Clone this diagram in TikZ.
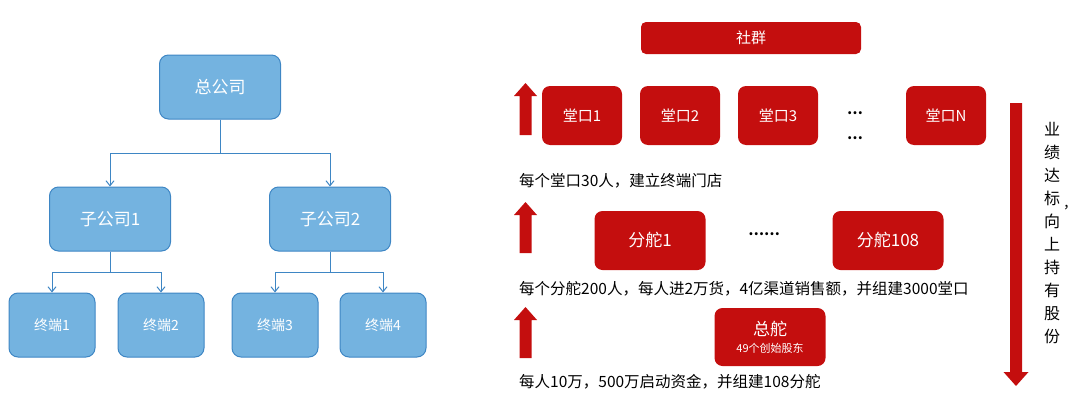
\documentclass[tikz,border=0pt]{standalone}
\usepackage{fontspec}
\setmainfont{Noto Sans CJK SC}
\usetikzlibrary{arrows.meta}
\definecolor{bfill}{HTML}{74B3E0}
\definecolor{bline}{HTML}{3E86C4}
\definecolor{rd}{HTML}{C40E0E}
\tikzset{
 bbox/.style={draw=bline,line width=1pt,fill=bfill,rounded corners=9pt,text=white,align=center,inner sep=0pt},
 rbox/.style={fill=rd,rounded corners=8pt,text=white,align=center,inner sep=0pt},
 conn/.style={draw=bline,line width=1pt,-{Straight Barb[length=5pt,width=8pt]}},
 captxt/.style={anchor=west,font=\fontsize{15.5}{17}\selectfont,inner sep=0pt},
}
\begin{document}
\begin{tikzpicture}[x=1pt,y=-1pt]
\useasboundingbox (0,0) rectangle (1080,418);
% left tree
\node[bbox,minimum width=121pt,minimum height=64pt,font=\fontsize{17}{19}\selectfont] (hq) at (220,87) {总公司};
\node[bbox,minimum width=121pt,minimum height=64pt,font=\fontsize{17}{19}\selectfont] (s1) at (110,219) {子公司1};
\node[bbox,minimum width=121pt,minimum height=64pt,font=\fontsize{17}{19}\selectfont] (s2) at (330,219) {子公司2};
\node[bbox,minimum width=86pt,minimum height=64pt,font=\fontsize{14}{16}\selectfont] (t1) at (52,325) {终端1};
\node[bbox,minimum width=86pt,minimum height=64pt,font=\fontsize{14}{16}\selectfont] (t2) at (161,325) {终端2};
\node[bbox,minimum width=86pt,minimum height=64pt,font=\fontsize{14}{16}\selectfont] (t3) at (275,325) {终端3};
\node[bbox,minimum width=86pt,minimum height=64pt,font=\fontsize{14}{16}\selectfont] (t4) at (383,325) {终端4};
\draw[conn] (hq.south) -- ++(0,34) -| (s1.north);
\draw[conn] (hq.south) -- ++(0,34) -| (s2.north);
\draw[conn] (s1.south) -- ++(0,21) -| (t1.north);
\draw[conn] (s1.south) -- ++(0,21) -| (t2.north);
\draw[conn] (s2.south) -- ++(0,21) -| (t3.north);
\draw[conn] (s2.south) -- ++(0,21) -| (t4.north);
% right
\node[rbox,minimum width=220pt,minimum height=32pt,font=\fontsize{15}{17}\selectfont,rounded corners=5pt] (sq) at (751,38) {社群};
\node[rbox,minimum width=80pt,minimum height=59pt,font=\fontsize{15}{17}\selectfont] (k1) at (582,115.5) {堂口1};
\node[rbox,minimum width=80pt,minimum height=59pt,font=\fontsize{15}{17}\selectfont] (k2) at (680,115.5) {堂口2};
\node[rbox,minimum width=80pt,minimum height=59pt,font=\fontsize{15}{17}\selectfont] (k3) at (778,115.5) {堂口3};
\node[rbox,minimum width=80pt,minimum height=59pt,font=\fontsize{15}{17}\selectfont] (kn) at (946,115.5) {堂口N};
\node[font=\bfseries\fontsize{14}{16}\selectfont,inner sep=0pt] (d1) at (855,113) {…};
\node[font=\bfseries\fontsize{14}{16}\selectfont,inner sep=0pt] (d2) at (855,138) {…};
\node[rbox,minimum width=111pt,minimum height=59pt,font=\fontsize{17}{19}\selectfont] (f1) at (650,240.5) {分舵1};
\node[rbox,minimum width=111pt,minimum height=59pt,font=\fontsize{17}{19}\selectfont] (f2) at (888,240.5) {分舵108};
\node[font=\bfseries\fontsize{14}{16}\selectfont,inner sep=0pt] (d3) at (764,234) {……};
\node[rbox,minimum width=111pt,minimum height=58pt] (zd) at (770,337) {{\fontsize{17}{19}\selectfont 总舵}\\[5pt]{\fontsize{11}{13}\selectfont 49个创始股东}};
\node[captxt] (c1) at (519,181) {每个堂口30人，建立终端门店};
\node[captxt] (c2) at (519,289) {每个分舵200人，每人进2万货，4亿渠道销售额，并组建3000堂口};
\node[captxt] (c3) at (519,382) {每人10万，500万启动资金，并组建108分舵};
% up arrows
\foreach \t/\b in {83/135,202/253,307/358}{
  \fill[rd] (519.5,\b) -- (519.5,\t+13) -- (514,\t+13) -- (525.5,\t) -- (537,\t+13) -- (531.5,\t+13) -- (531.5,\b) -- cycle;
}
% down arrow
\fill[rd] (1010,103) -- (1022,103) -- (1022,372) -- (1028.5,372) -- (1016,386) -- (1003.5,372) -- (1010,372) -- cycle;
\node[font=\fontsize{16}{23}\selectfont,align=center,inner sep=0pt] (vt) at (1052,233) {业\\绩\\达\\标\\向\\上\\持\\有\\股\\份};
\node[font=\fontsize{14}{16}\selectfont,inner sep=0pt] (cm) at (1070,208) {，};
\end{tikzpicture}
\end{document}
